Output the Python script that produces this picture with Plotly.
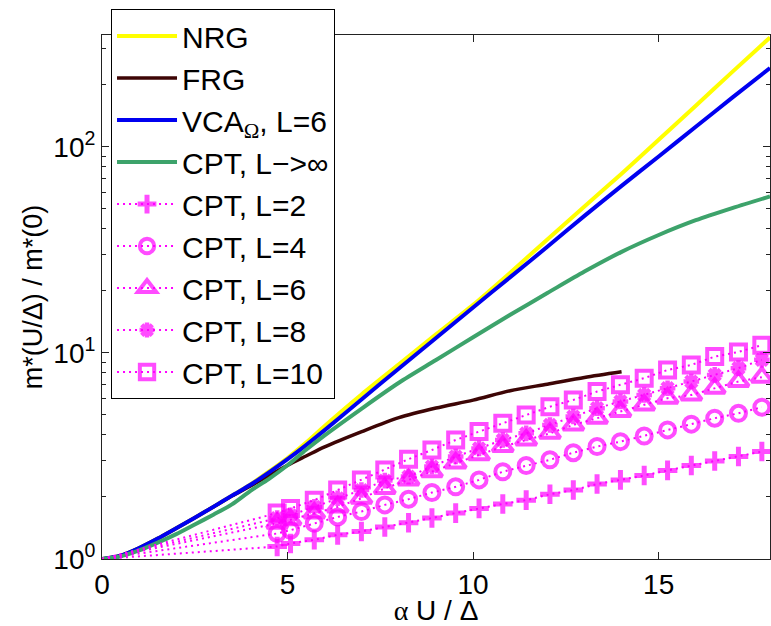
import plotly.graph_objects as go

# ---- data ----
x_curve = [0, 0.5, 1, 1.5, 2, 2.5, 3, 3.5, 4, 4.5, 5, 5.5, 6, 7, 8, 9, 10, 11, 12, 13, 14, 15, 16, 17, 18]
nrg = [1.0, 1.037, 1.13, 1.256, 1.41, 1.585, 1.79, 2.03, 2.30, 2.66, 3.09, 3.67, 4.42,
       6.3, 8.8, 12.3, 17.1, 24.5, 35.5, 51.3, 74, 108, 158, 232, 339]
vca = [1.0, 1.037, 1.13, 1.256, 1.41, 1.585, 1.79, 2.03, 2.29, 2.63, 3.05, 3.57, 4.22,
       5.96, 8.4, 11.8, 16.6, 23.3, 32.7, 46.2, 64.6, 89.7, 125, 174, 241]
cpt_inf = [1.0, 1.03, 1.10, 1.20, 1.32, 1.47, 1.64, 1.84, 2.14, 2.45, 2.85, 3.39, 3.98,
           5.37, 7.16, 9.23, 11.9, 15.3, 19.5, 24.8, 30.9, 37.3, 44.0, 50.5, 57.4]
x_frg = [0, 0.5, 1, 1.5, 2, 2.5, 3, 3.5, 4, 4.5, 5, 5.5, 6, 7, 8, 9, 10, 11, 12, 13, 14]
frg = [1.0, 1.037, 1.13, 1.256, 1.41, 1.585, 1.79, 2.02, 2.26, 2.54, 2.85, 3.16, 3.5,
       4.15, 4.85, 5.4, 5.9, 6.55, 7.05, 7.6, 8.1]

x_cpt = [0, 4.72, 5.08, 5.72, 6.35, 6.99, 7.62, 8.26, 8.89, 9.53, 10.16, 10.80, 11.43,
         12.07, 12.70, 13.34, 13.97, 14.61, 15.24, 15.88, 16.51, 17.15, 17.78]
cpt_L2 = [1.0, 1.15, 1.19, 1.24, 1.31, 1.36, 1.43, 1.50, 1.58, 1.67, 1.76, 1.85, 1.93,
          2.06, 2.16, 2.31, 2.42, 2.54, 2.69, 2.84, 2.99, 3.14, 3.32]
cpt_L4 = [1.0, 1.33, 1.38, 1.49, 1.60, 1.70, 1.83, 1.95, 2.10, 2.24, 2.42, 2.65, 2.84,
          3.03, 3.28, 3.51, 3.71, 3.95, 4.23, 4.51, 4.82, 5.09, 5.45]
cpt_L6 = [1.0, 1.49, 1.55, 1.67, 1.79, 1.97, 2.20, 2.42, 2.65, 2.92, 3.20, 3.51, 3.78,
          4.07, 4.47, 4.82, 5.19, 5.59, 6.03, 6.25, 6.74, 7.26, 7.62]
cpt_L8 = [1.0, 1.58, 1.63, 1.79, 1.97, 2.16, 2.40, 2.51, 2.81, 3.14, 3.44, 3.78, 4.07,
          4.47, 4.91, 5.39, 5.81, 6.25, 6.74, 7.26, 7.82, 8.43, 9.25]
cpt_L10 = [1.0, 1.67, 1.76, 1.93, 2.16, 2.42, 2.70, 3.05, 3.38, 3.78, 4.15, 4.56, 5.00,
           5.48, 5.91, 6.49, 7.00, 7.54, 8.26, 8.74, 9.59, 10.1, 10.9]

x_ticks = [0, 5, 10, 15]
y_ticks = [1, 10, 100]
y_ticktext = ["10<sup>0</sup>", "10<sup>1</sup>", "10<sup>2</sup>"]
y_minor = [2, 3, 4, 5, 6, 7, 8, 9, 20, 30, 40, 50, 60, 70, 80, 90, 200, 300]

FONT = "Liberation Sans, Arial, sans-serif"
MAG = "#FF00FF"

fig = go.Figure()
fig.add_trace(go.Scatter(x=x_curve, y=nrg, mode="lines", name="NRG",
                         line=dict(color="#FFFF00", width=4, shape="spline", smoothing=0.8)))
fig.add_trace(go.Scatter(x=x_frg, y=frg, mode="lines", name="FRG",
                         line=dict(color="#3D0505", width=3.5, shape="spline", smoothing=0.8)))
fig.add_trace(go.Scatter(x=x_curve, y=vca, mode="lines",
                         name="VCA<sub><span style=\"font-family:Liberation Serif\">Ω</span></sub>, L=6",
                         line=dict(color="#0000F0", width=4, shape="spline", smoothing=0.8)))
fig.add_trace(go.Scatter(x=x_curve, y=cpt_inf, mode="lines", name="CPT, L−>∞",
                         line=dict(color="#3DA36B", width=4, shape="spline", smoothing=0.8)))

sizes_template = [0] + [1] * (len(x_cpt) - 1)
cpt_specs = [
    ("CPT, L=2", cpt_L2, "cross-thin-open", 14, 5),
    ("CPT, L=4", cpt_L4, "circle-open", 15, 4),
    ("CPT, L=6", cpt_L6, "triangle-up-open", 18, 4),
    ("CPT, L=8", cpt_L8, "asterisk-open", 13, 4.5),
    ("CPT, L=10", cpt_L10, "square-open", 15, 4),
]
for name, yv, sym, sz, lw in cpt_specs:
    fig.add_trace(go.Scatter(
        x=x_cpt, y=yv, mode="lines+markers", name=name,
        line=dict(color=MAG, width=2, dash="2px,4px"),
        marker=dict(symbol=sym, size=[s * sz for s in sizes_template],
                    color=MAG, line=dict(color=MAG, width=lw)),
    ))

axis_common = dict(showline=True, linecolor="#222", linewidth=1, mirror="ticks",
                   ticks="inside", tickcolor="#222", ticklen=7, showgrid=False,
                   zeroline=False, tickfont=dict(size=28, color="black", family=FONT))

fig.update_layout(
    width=771, height=626,
    margin=dict(l=102, r=1, t=35, b=67),
    paper_bgcolor="white", plot_bgcolor="white",
    font=dict(family=FONT, color="black"),
    showlegend=True,
    legend=dict(x=0.0135, y=1.0496, xanchor="left", yanchor="top",
                bgcolor="white", bordercolor="black", borderwidth=1,
                font=dict(size=30, family=FONT, color="black"),
                itemwidth=60, tracegroupgap=0, maxheight=600),
    xaxis=dict(range=[0, 18], tickvals=x_ticks, ticktext=[str(v) for v in x_ticks],
               title=dict(text="<span style=\"font-family:Liberation Serif\">α</span> U / Δ",
                          font=dict(size=28, family=FONT), standoff=2),
               **axis_common),
    yaxis=dict(type="log", range=[0, 2.542], tickvals=y_ticks, ticktext=y_ticktext,
               minor=dict(tickvals=y_minor, ticks="inside", ticklen=4, tickcolor="#222"),
               title=dict(text="m*(U/Δ) / m*(0)", font=dict(size=27, family=FONT), standoff=2),
               **axis_common),
)

fig.write_html("out.html")
